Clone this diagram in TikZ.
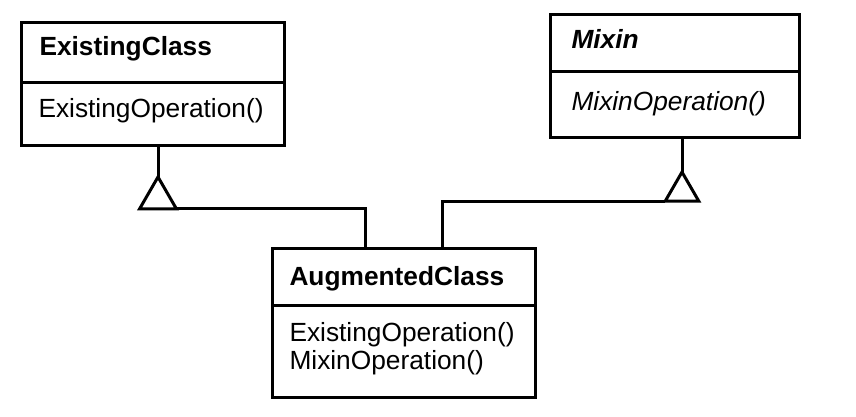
\documentclass[tikz,border=0pt]{standalone}
\usepackage{fontspec}
\setmainfont{Liberation Sans}
\usetikzlibrary{shapes.geometric}
\begin{document}
\begin{tikzpicture}[x=1pt,y=-1pt, line width=3pt,
  classbox/.style={draw, rectangle, inner sep=0pt, outer sep=0pt},
  txt/.style={anchor=base west, inner sep=0pt, font=\fontsize{26.3}{28}\selectfont},
  tri/.style={draw, regular polygon, regular polygon sides=3, inner sep=0pt, outer sep=0pt}]
\useasboundingbox (0,0) rectangle (856,416);
% ExistingClass
\node[classbox, minimum width=263pt, minimum height=123pt] (ec) at (152.5,83.5) {};
\draw ([yshift=-60pt]ec.north west) -- ([yshift=-60pt]ec.north east);
\node[txt] (ecname) at (38,55) {\bfseries ExistingClass};
\node[txt] (ecop) at (37,117) {ExistingOperation()};
% Mixin
\node[classbox, minimum width=249pt, minimum height=123pt] (mx) at (674.5,75.5) {};
\draw ([yshift=-57pt]mx.north west) -- ([yshift=-57pt]mx.north east);
\node[txt] (mxname) at (570,48) {\bfseries\itshape Mixin};
\node[txt] (mxop) at (570,110) {\itshape MixinOperation()};
% AugmentedClass
\node[classbox, minimum width=263pt, minimum height=149pt] (aug) at (403.5,322.5) {};
\draw ([yshift=-57pt]aug.north west) -- ([yshift=-57pt]aug.north east);
\node[txt] (augname) at (288,285) {\bfseries AugmentedClass};
\node[txt] (augop1) at (288,341) {ExistingOperation()};
\node[txt] (augop2) at (288,369) {MixinOperation()};
% inheritance triangles
\node[tri, minimum size=42.7pt] (t1) at (158,198.3) {};
\node[tri, minimum size=38.7pt] (t2) at (682,191.4) {};
% connectors
\draw (t1.corner 1 |- ec.south) -- (t1.corner 1);
\draw (t1.corner 3) -| ([xshift=93pt]aug.north west);
\draw (t2.corner 1 |- mx.south) -- (t2.corner 1);
\draw (t2.corner 2) -| ([xshift=170pt]aug.north west);
\end{tikzpicture}
\end{document}
